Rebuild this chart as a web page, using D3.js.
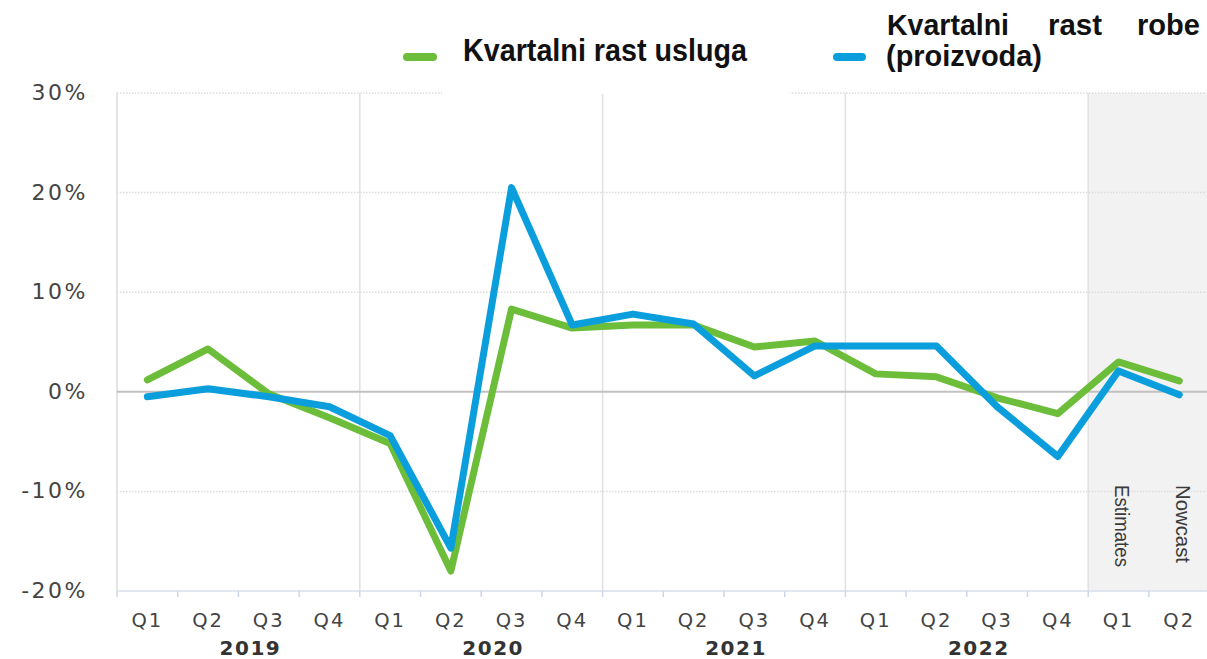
<!DOCTYPE html>
<html>
<head>
<meta charset="utf-8">
<script src="https://cdn.jsdelivr.net/npm/d3@7"></script>
<style>
  body { margin: 0; background: #fff; }
  svg { display: block; }
</style>
</head>
<body>
<svg id="chart" width="1207" height="659"></svg>
<script>
// quarters shown on the axis
var years = ["2019", "2020", "2021", "2022", "2023"];
var quarters = ["Q1", "Q2", "Q3", "Q4"];
var periods = [];
years.forEach(function (y) {
    quarters.forEach(function (q) { periods.push(y + " " + q); });
});
periods = periods.slice(0, 18);

// quarterly growth, %
var services = [1.2, 4.3, -0.2, -2.6, -5.2, -18.0, 8.3, 6.4, 6.7, 6.7, 4.5, 5.1, 1.8, 1.5, -0.6, -2.2, 3.0, 1.1];
var goods = [-0.5, 0.3, -0.5, -1.5, -4.4, -15.7, 20.5, 6.7, 7.8, 6.8, 1.6, 4.6, 4.6, 4.6, -1.5, -6.5, 2.1, -0.3];

var yTicks = [-20, -10, 0, 10, 20, 30];
var shaded = ["2023 Q1", "2023 Q2"];
var shadedLabels = ["Estimates", "Nowcast"];

var seriesNames = ["Kvartalni rast usluga", "Kvartalni rast robe (proizvoda)"];
var colors = ["#6bbd3a", "#0a9fdc"];

(function () {

var svg = d3.select("#chart");
var left = 117, plotTop = 93, bottom = 591, right = 1207;
var bandW = 60.7;

var x = d3.scaleBand()
    .domain(periods)
    .range([left, left + periods.length * bandW])
    .padding(0);

var y = d3.scaleLinear()
    .domain([-20, 30])
    .range([bottom, plotTop]);

var cx = function (p) { return x(p) + x.bandwidth() / 2; };

// shaded forecast zone
svg.append("rect")
    .attr("x", x(shaded[0]))
    .attr("y", plotTop)
    .attr("width", right - x(shaded[0]))
    .attr("height", bottom - plotTop)
    .attr("fill", "#f2f2f2");

// horizontal dotted grid
svg.append("g").selectAll("line")
    .data(yTicks.filter(function (d) { return d !== 0; }))
    .enter().append("line")
    .attr("x1", left).attr("x2", right)
    .attr("y1", function (d) { return y(d); })
    .attr("y2", function (d) { return y(d); })
    .attr("stroke", "#dcdcdc")
    .attr("stroke-width", 1.5)
    .attr("stroke-dasharray", "1.5,1.5");

// vertical year lines
svg.append("g").selectAll("line")
    .data(years.slice(1))
    .enter().append("line")
    .attr("x1", function (d) { return x(d + " Q1"); })
    .attr("x2", function (d) { return x(d + " Q1"); })
    .attr("y1", plotTop).attr("y2", bottom)
    .attr("stroke", "#e2e0e0")
    .attr("stroke-width", 1.5);

// left axis line
svg.append("line")
    .attr("x1", left).attr("x2", left)
    .attr("y1", plotTop).attr("y2", bottom)
    .attr("stroke", "#e4e4e4")
    .attr("stroke-width", 2);

// zero line
svg.append("line")
    .attr("x1", left).attr("x2", right)
    .attr("y1", y(0)).attr("y2", y(0))
    .attr("stroke", "#c4c0c0")
    .attr("stroke-width", 2);

// white patch behind legend (as in the original)
svg.append("rect")
    .attr("x", 442).attr("y", 80)
    .attr("width", 348).attr("height", 14)
    .attr("fill", "#fff");

// bottom axis
svg.append("line")
    .attr("x1", left).attr("x2", right)
    .attr("y1", bottom).attr("y2", bottom)
    .attr("stroke", "#dde3ee")
    .attr("stroke-width", 1.5);

svg.append("g").selectAll("line")
    .data(periods)
    .enter().append("line")
    .attr("x1", function (d) { return x(d); })
    .attr("x2", function (d) { return x(d); })
    .attr("y1", bottom).attr("y2", bottom + 6)
    .attr("stroke", "#ccd6eb")
    .attr("stroke-width", 1.5);

// y labels
svg.append("g").selectAll("text")
    .data(yTicks)
    .enter().append("text")
    .attr("x", 88)
    .attr("y", function (d) { return y(d) + 7; })
    .attr("text-anchor", "end")
    .style("font-family", "DejaVu Sans")
    .style("font-size", "22px")
    .style("letter-spacing", "2.5px")
    .style("fill", "#444")
    .text(function (d) { return d + "%"; });

// quarter labels
svg.append("g").selectAll("text")
    .data(periods)
    .enter().append("text")
    .attr("x", cx)
    .attr("y", 627)
    .attr("text-anchor", "middle")
    .style("font-family", "DejaVu Sans")
    .style("font-size", "19.5px")
    .style("letter-spacing", "2px")
    .style("fill", "#444")
    .text(function (d) { return d.split(" ")[1]; });

// year labels
svg.append("g").selectAll("text")
    .data(years.slice(0, 4))
    .enter().append("text")
    .attr("x", function (d) { return (cx(d + " Q2") + cx(d + " Q3")) / 2 + 12; })
    .attr("y", 655)
    .attr("text-anchor", "middle")
    .style("font-family", "DejaVu Sans")
    .style("font-weight", "bold")
    .style("font-size", "20px")
    .style("letter-spacing", "1.5px")
    .style("fill", "#333")
    .text(function (d) { return d; });

// rotated labels in forecast zone
svg.append("g").selectAll("text")
    .data(shaded)
    .enter().append("text")
    .attr("transform", function (d) { return "translate(" + (cx(d) + 4) + ",485) rotate(90)"; })
    .style("font-family", "Liberation Sans Narrow, Liberation Sans")
    .style("font-size", "21px")
    .style("fill", "#3a3a3a")
    .attr("dy", "0.35em")
    .attr("textLength", function (d, i) { return i === 0 ? 82 : 78; })
    .attr("lengthAdjust", "spacingAndGlyphs")
    .text(function (d, i) { return shadedLabels[i]; });

// lines
var line = d3.line()
    .x(function (d) { return cx(d.p); })
    .y(function (d) { return y(d.v); });

[services, goods].forEach(function (vals, i) {
    svg.append("path")
        .datum(vals.map(function (v, j) { return { p: periods[j], v: v }; }))
        .attr("d", line)
        .attr("fill", "none")
        .attr("stroke", colors[i])
        .attr("stroke-width", 7)
        .attr("stroke-linejoin", "round")
        .attr("stroke-linecap", "round");
});

// legend
var lg = svg.append("g").style("font-family", "Liberation Sans").style("font-weight", "bold").style("fill", "#111");

lg.append("line")
    .attr("x1", 407).attr("x2", 433).attr("y1", 57).attr("y2", 57)
    .attr("stroke", colors[0]).attr("stroke-width", 8).attr("stroke-linecap", "round");
lg.append("text")
    .attr("x", 463).attr("y", 61)
    .style("font-size", "31px")
    .attr("textLength", 284).attr("lengthAdjust", "spacingAndGlyphs")
    .text(seriesNames[0]);

lg.append("line")
    .attr("x1", 837).attr("x2", 862).attr("y1", 57).attr("y2", 57)
    .attr("stroke", colors[1]).attr("stroke-width", 8).attr("stroke-linecap", "round");

// justified first line of second legend item
var words = seriesNames[1].split(" ");
var wordBox = [[887, 122], [1048, 54], [1137, 63]];
lg.selectAll(".w")
    .data(words.slice(0, 3))
    .enter().append("text")
    .attr("x", function (d, i) { return wordBox[i][0]; })
    .attr("y", 35)
    .style("font-size", "30px")
    .attr("textLength", function (d, i) { return wordBox[i][1]; })
    .attr("lengthAdjust", "spacingAndGlyphs")
    .text(function (d) { return d; });
lg.append("text")
    .attr("x", 886).attr("y", 66)
    .style("font-size", "30px")
    .attr("textLength", 156).attr("lengthAdjust", "spacingAndGlyphs")
    .text(words[3]);

})();
</script>
</body>
</html>
